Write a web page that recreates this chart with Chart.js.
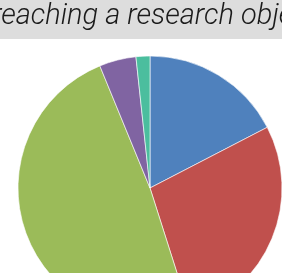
<!DOCTYPE html>
<html>
<head>
<meta charset="utf-8">
<script src="https://cdn.jsdelivr.net/npm/chart.js@4"></script>
<style>
  html, body { margin: 0; padding: 0; overflow: hidden; background: #fff; }
  #wrap { position: relative; width: 282px; height: 273px; overflow: hidden; }
  #canvasDiv { position: absolute; left: -250px; top: 0; width: 800px; height: 330px; }
</style>
</head>
<body>
<div id="wrap">
  <div id="canvasDiv"><canvas id="myChart" width="800" height="330"></canvas></div>
</div>
<script>
// title is cut off on both sides in the picture
const titleLead = "Time spent ";
const titleText = "Time spent reaching a research objective";

const labels = [
  "Category 1",
  "Category 2",
  "Category 3",
  "Category 4",
  "Category 5",
];
const shares = [17.4, 27.7, 48.7, 4.5, 1.7];
const sliceColors = ['#4f81bd', '#c0504d', '#9bbb59', '#8064a2', '#4bbe9e'];

// grey band + title text, drawn under the pie
const titleBand = {
  id: 'titleBand',
  beforeDraw(chart) {
    var ctx = chart.ctx;
    ctx.save();
    ctx.fillStyle = '#dddddd';
    ctx.fillRect(0, 0, chart.width, 39);
    ctx.font = 'italic 300 29px Roboto';
    ctx.fillStyle = '#1a1a1a';
    ctx.textAlign = 'left';
    ctx.textBaseline = 'alphabetic';
    var lead = ctx.measureText(titleLead).width;
    ctx.fillText(titleText, 242 - lead, 24);
    ctx.restore();
  }
};

var data = {
  labels: labels,
  datasets: [{
    data: shares,
    backgroundColor: sliceColors,
    borderColor: 'rgba(255,255,255,0.6)',
    borderWidth: 1
  }]
};

var config = {
  type: 'pie',
  data: data,
  options: {
    responsive: false,
    animation: false,
    layout: { padding: { top: 55.5, bottom: 9.5, left: 0, right: 0 } },
    plugins: {
      legend: { display: false },
      tooltip: { enabled: false }
    }
  },
  plugins: [titleBand]
};

var myChart = new Chart(document.getElementById('myChart'), config);
</script>
</body>
</html>
